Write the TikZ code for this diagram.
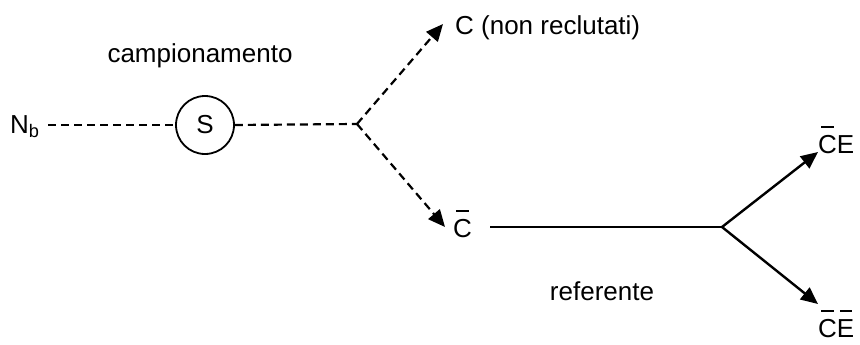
\documentclass[tikz,border=0pt]{standalone}
\usepackage{fontspec}
\setmainfont{Liberation Sans}
\usetikzlibrary{arrows.meta}
\newcommand{\ovl}[1]{\setbox0\hbox{#1}\rlap{\hbox to \wd0{\hss\rule[0.97em]{0.68\wd0}{1.8pt}\hss}}\box0}
\tikzset{
  lbl/.style={inner sep=0pt, font=\fontsize{26}{30}\selectfont},
  dashline/.style={line width=2.2pt, dash pattern=on 8pt off 5pt},
  solidline/.style={line width=2.4pt},
  tip/.style={-{Triangle[length=17pt,width=15pt]}},
  sampler/.style={circle, draw, line width=1.8pt, minimum size=58pt, inner sep=0pt, font=\fontsize{26}{30}\selectfont}
}
\begin{document}
\begin{tikzpicture}[x=1pt,y=-1pt]
\useasboundingbox (0,0) rectangle (860,345);
\node[lbl, anchor=base west] (nb) at (10,133) {N\textsubscript{b}};
\node[sampler] (s) at (205,125) {S};
\node[lbl, anchor=base] (camp) at (200,63) {campionamento};
\coordinate (b1) at (357,124);
\node[lbl, anchor=base west] (c) at (455,35) {C (non reclutati)};
\coordinate (ctip) at (443,24);
\node[lbl, anchor=base west] (cbar) at (453,237) {\ovl{C}};
\coordinate (cbtip) at (445,227);
\coordinate (b2) at (722,227);
\node[lbl, anchor=base] (ref) at (602,300) {referente};
\node[lbl, anchor=base west] (ce) at (818,153) {\ovl{C}E};
\node[lbl, anchor=base west] (cebar) at (818,337) {\ovl{C}\ovl{E}};
\coordinate (cetip) at (818,152);
\coordinate (cebtip) at (818,304);
\draw[dashline] (48,125) -- (s.west);
\draw[dashline] (s.east) -- (b1);
\draw[dashline, tip] (b1) -- (ctip);
\draw[dashline, tip] (b1) -- (cbtip);
\draw[solidline] (490,227) -- (b2);
\draw[solidline, tip] (b2) -- (cetip);
\draw[solidline, tip] (b2) -- (cebtip);
\end{tikzpicture}
\end{document}
